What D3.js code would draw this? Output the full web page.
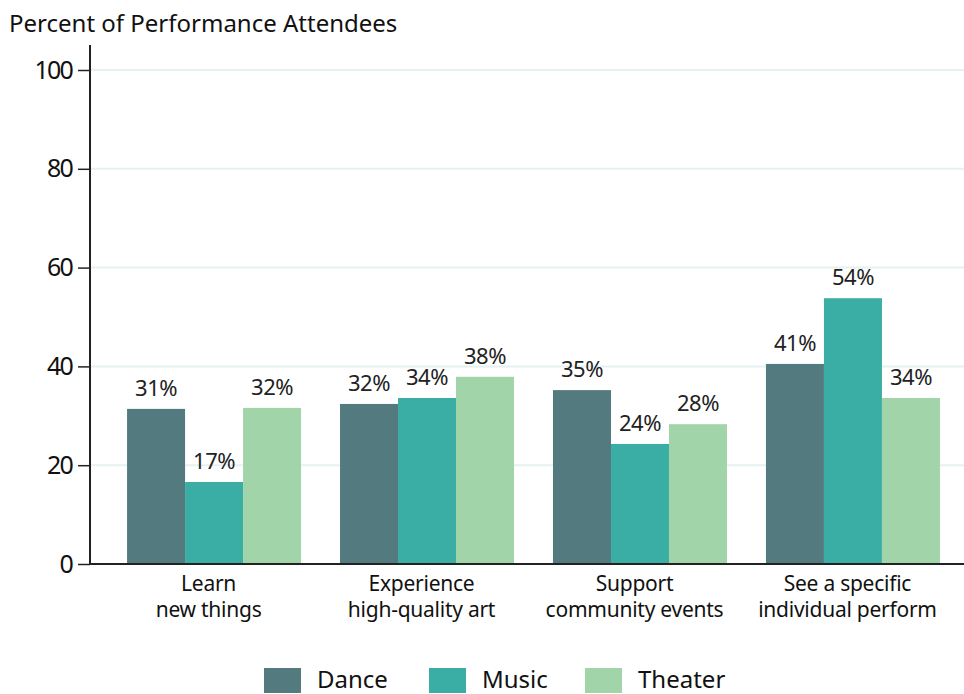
<!DOCTYPE html>
<html>
<head>
<meta charset="utf-8">
<script src="https://cdn.jsdelivr.net/npm/d3@7"></script>
<style>
  body { margin: 0; background: #fff; }
  svg { display: block; font-family: "Noto Sans", "Open Sans", sans-serif; }
</style>
</head>
<body>
<div id="chart"></div>
<script>
const categories = [
  ["Learn", "new things"],
  ["Experience", "high-quality art"],
  ["Support", "community events"],
  ["See a specific", "individual perform"]
];
const seriesNames = ["Dance", "Music", "Theater"];
const dance = [31.4, 32.4, 35.2, 40.5];
const music = [16.6, 33.6, 24.3, 53.8];
const theater = [31.6, 37.9, 28.3, 33.6];
const yTicks = [0, 20, 40, 60, 80, 100];
const colors = ["#537a7f", "#3aada5", "#a2d4aa"];

const width = 964, height = 694;
const seriesValues = [dance, music, theater];

const svg = d3.select("#chart").append("svg")
  .attr("width", width)
  .attr("height", height);

const y = d3.scaleLinear().domain([0, 100]).range([564, 70]);
const x0 = d3.scaleBand()
  .domain(d3.range(categories.length))
  .range([90, 977])
  .paddingInner(0.183)
  .paddingOuter(0.174);
const x1 = d3.scaleBand()
  .domain(seriesNames)
  .range([0, x0.bandwidth()]);

// gridlines
svg.append("g")
  .selectAll("line")
  .data(yTicks.filter(d => d > 0))
  .join("line")
  .attr("x1", 90).attr("x2", width)
  .attr("y1", d => y(d)).attr("y2", d => y(d))
  .attr("stroke", "#e6f2f2")
  .attr("stroke-width", 2);

// bars
const groups = svg.append("g")
  .selectAll("g")
  .data(categories.map((c, i) => i))
  .join("g")
  .attr("transform", i => `translate(${x0(i)},0)`);

groups.selectAll("rect")
  .data(i => seriesNames.map((s, j) => ({ s, v: seriesValues[j][i], c: colors[j] })))
  .join("rect")
  .attr("x", d => x1(d.s))
  .attr("width", x1.bandwidth())
  .attr("y", d => y(d.v))
  .attr("height", d => y(0) - y(d.v))
  .attr("fill", d => d.c);

groups.selectAll("text")
  .data(i => seriesNames.map((s, j) => ({ s, v: seriesValues[j][i] })))
  .join("text")
  .attr("x", d => x1(d.s) + x1.bandwidth() / 2)
  .attr("y", d => y(d.v) - 13)
  .attr("text-anchor", "middle")
  .attr("font-size", 22)
  .attr("letter-spacing", -0.5)
  .attr("fill", "#222")
  .text(d => Math.round(d.v) + "%");

// y axis
const yAxis = svg.append("g")
  .attr("transform", "translate(90,0)")
  .call(d3.axisLeft(y).tickValues(yTicks).tickSize(12).tickPadding(6));
yAxis.select(".domain").attr("d", `M0,45V${y(0)}`).attr("stroke", "#222").attr("stroke-width", 2);
yAxis.selectAll(".tick line").attr("stroke", "#222").attr("stroke-width", 1.5);
yAxis.selectAll(".tick text").attr("font-size", 25).attr("fill", "#111")
  .attr("letter-spacing", -1.8)
  .attr("font-family", "'Noto Sans', sans-serif");

// x baseline
svg.append("line")
  .attr("x1", 90).attr("x2", width)
  .attr("y1", y(0)).attr("y2", y(0))
  .attr("stroke", "#222").attr("stroke-width", 2);

// x labels, two lines each
svg.append("g")
  .selectAll("g")
  .data(categories)
  .join("g")
  .attr("transform", (d, i) => `translate(${x0(i) + x0.bandwidth() / 2 - 5.5},0)`)
  .selectAll("text")
  .data(d => d)
  .join("text")
  .attr("y", (d, i) => 591 + i * 25.5)
  .attr("text-anchor", "middle")
  .attr("font-size", 21)
  .attr("letter-spacing", -0.25)
  .attr("fill", "#111")
  .text(d => d);

// title
svg.append("text")
  .attr("x", 9).attr("y", 32)
  .attr("font-size", 24)
  .attr("fill", "#111")
  .text("Percent of Performance Attendees");

// legend
const legendX = [264, 429, 585];
const legend = svg.append("g")
  .selectAll("g")
  .data(seriesNames)
  .join("g")
  .attr("transform", (d, i) => `translate(${legendX[i]},668)`);
legend.append("rect")
  .attr("width", 37).attr("height", 25)
  .attr("fill", (d, i) => colors[i]);
legend.append("text")
  .attr("x", 53).attr("y", 20)
  .attr("font-size", 24)
  .attr("fill", "#111")
  .text(d => d);
</script>
</body>
</html>
